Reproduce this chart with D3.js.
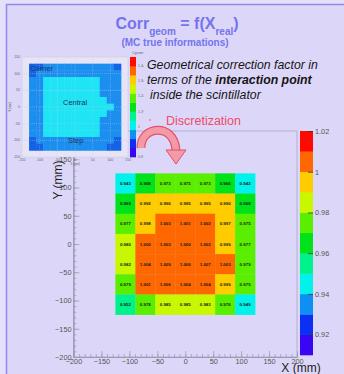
<!DOCTYPE html>
<html><head><meta charset="utf-8">
<script src="https://cdn.jsdelivr.net/npm/d3@7"></script>
<style>
html,body{margin:0;padding:0;background:#e4e0fa;}
svg{display:block;}
</style></head>
<body>
<svg id="c" width="344" height="374"></svg>
<script>
// ---------- data ----------
const xTicks = [-200, -150, -100, -50, 0, 50, 100, 150, 200];
const yTicks = [-200, -150, -100, -50, 0, 50, 100, 150];
const colorTicks = [0.92, 0.94, 0.96, 0.98, 1, 1.02];
const colorLevels = [0.91, 0.92, 0.93, 0.94, 0.95, 0.96, 0.97, 0.98, 0.99, 1.00, 1.01, 1.02];
const palette = ["#3a05f2", "#0a30f5", "#0e90f2", "#00f2ea", "#00f28c", "#00e21a", "#5aee00", "#c8f800", "#ffcc00", "#ff6800", "#ff0a00"];
const cellEdges = [-125, -89.3, -53.6, -17.9, 17.9, 53.6, 89.3, 125];
// rows from top (Y high) to bottom
const cellValues = [
  [0.943, 0.968, 0.973, 0.975, 0.973, 0.966, 0.942],
  [0.969, 0.992, 0.996, 0.995, 0.995, 0.990, 0.968],
  [0.977, 0.998, 1.003, 1.001, 1.002, 0.997, 0.975],
  [0.980, 1.000, 1.003, 1.000, 1.002, 0.999, 0.977],
  [0.982, 1.004, 1.009, 1.006, 1.007, 1.003, 0.979],
  [0.979, 1.001, 1.006, 1.004, 1.004, 0.999, 0.975],
  [0.952, 0.978, 0.985, 0.985, 0.983, 0.976, 0.949]
];
// inset (continuous MC map, coarse) : d = corner, b = step, c = central
const insetRows = [
  "ddbbbbbbbbbbd",
  "dbbbbbbbbbbbb",
  "bbccccccccbbb",
  "bbccccccccbbb",
  "bbccccccccbbb",
  "bbcccccccccbb",
  "bbccccccccccb",
  "bbcccccccccbb",
  "bbccccccccbbb",
  "bbccccccccbbb",
  "bbccccccccbbb",
  "dbbbbbbbbbbbd",
  "ddbbbbbbbbbdd"
];
const insetLevels = {d: 0.86, b: 0.92, c: 0.98};
const insetTicks = [-150, -100, -50, 0, 50, 100, 150];
const insetColorTicks = [0.8, 0.9, 1, 1.1, 1.2, 1.3, 1.4];
const insetLabels = [["Corner", -127, 108], ["Central", -34, 5], ["Step", -20, -107]];

const svg = d3.select("#c");
const ff = "'Liberation Sans', Arial, sans-serif";
const fn = "'Liberation Sans Narrow', 'Liberation Sans', Arial, sans-serif";

// slide background + border
svg.append("rect").attr("x", 6.5).attr("y", 4.5).attr("width", 340).attr("height", 372)
  .attr("fill", "#dcd7f8").attr("stroke", "#8f88ee").attr("stroke-width", 1.5);

// ---------- title ----------
const title = svg.append("text").attr("x", 177).attr("y", 29).attr("text-anchor", "middle")
  .attr("font-family", ff).attr("font-weight", "bold").attr("fill", "#7474ec").attr("font-size", 16);
title.append("tspan").text("Corr");
title.append("tspan").attr("font-size", 10).attr("dy", 6).text("geom");
title.append("tspan").attr("dy", -6).text(" = f(X");
title.append("tspan").attr("font-size", 10).attr("dy", 6).text("real");
title.append("tspan").attr("dy", -6).text(")");
svg.append("text").attr("x", 175).attr("y", 46).attr("text-anchor", "middle")
  .attr("font-family", ff).attr("font-weight", "bold").attr("fill", "#7474ec").attr("font-size", 10)
  .text("(MC true informations)");

// ---------- description text ----------
const desc = svg.append("g").attr("font-family", ff).attr("font-style", "italic").attr("font-size", 12.3).attr("fill", "#151515");
desc.append("text").attr("x", 147).attr("y", 69).text("Geometrical correction factor in");
const l2 = desc.append("text").attr("x", 147).attr("y", 84);
l2.append("tspan").text("terms of the ");
l2.append("tspan").attr("font-weight", "bold").text("interaction point");
desc.append("text").attr("x", 150).attr("y", 99).text("inside the scintillator");
[66, 81, 96, 111].forEach(yy => svg.append("circle").attr("cx", 143).attr("cy", yy).attr("r", 0.6).attr("fill", "#888"));
svg.append("circle").attr("cx", 150).attr("cy", 120).attr("r", 0.7).attr("fill", "#e44");
svg.append("text").attr("x", 166).attr("y", 125).attr("font-family", ff).attr("font-size", 12.5)
  .attr("fill", "#f04a66").text("Discretization");

// ---------- main histogram ----------
const x = d3.scaleLinear().domain([-200, 200]).range([73.5, 297]);
const y = d3.scaleLinear().domain([-200, 200]).range([357, 131]);
const color = d3.scaleThreshold().domain(colorLevels.slice(1, -1)).range(palette);

svg.append("rect").attr("x", x(-200)).attr("y", y(200)).attr("width", x(200) - x(-200)).attr("height", y(-200) - y(200))
  .attr("fill", "none").attr("stroke", "#a9a6c4").attr("stroke-width", 0.8);

const cells = [];
cellValues.forEach((row, r) => row.forEach((v, c) => cells.push({
  x0: cellEdges[c], x1: cellEdges[c + 1], y1: cellEdges[cellEdges.length - 1 - r], y0: cellEdges[cellEdges.length - 2 - r], v
})));
const cg = svg.append("g");
cg.selectAll("rect").data(cells).join("rect")
  .attr("x", d => x(d.x0)).attr("y", d => y(d.y1))
  .attr("width", d => x(d.x1) - x(d.x0) + 0.3).attr("height", d => y(d.y0) - y(d.y1) + 0.3)
  .attr("fill", d => color(d.v));
cg.selectAll("text").data(cells).join("text")
  .attr("x", d => x((d.x0 + d.x1) / 2)).attr("y", d => y((d.y0 + d.y1) / 2) + 1.5)
  .attr("text-anchor", "middle").attr("font-family", fn).attr("font-weight", "bold").attr("font-size", 4.4)
  .attr("fill", "#1a1a1a").text(d => d.v.toFixed(3));

// axes
function styleAxis(g) {
  g.select(".domain").attr("stroke", "#9a98b0").attr("stroke-width", 0.8);
  g.selectAll(".tick line").attr("stroke", "#9a98b0").attr("stroke-width", 0.7);
  g.selectAll("text").attr("font-family", fn).attr("font-size", 7.3).attr("fill", "#555");
}
const minor = d3.range(-200, 201, 10);
const yg = svg.append("g").attr("transform", `translate(${x(-200)},0)`)
  .call(d3.axisLeft(y).tickValues(yTicks).tickSizeInner(-6).tickSizeOuter(0).tickPadding(2).tickFormat(d3.format("d")));
styleAxis(yg);
const ygm = svg.append("g").attr("transform", `translate(${x(-200)},0)`)
  .call(d3.axisLeft(y).tickValues(minor).tickSizeInner(-3).tickSizeOuter(0).tickFormat(""));
styleAxis(ygm);
const xg = svg.append("g").attr("transform", `translate(0,${y(-200)})`)
  .call(d3.axisBottom(x).tickValues(xTicks).tickSizeInner(-6).tickSizeOuter(0).tickPadding(2).tickFormat(d3.format("d")));
styleAxis(xg);
xg.selectAll("text").attr("dy", "0.65em");
const xgm = svg.append("g").attr("transform", `translate(0,${y(-200)})`)
  .call(d3.axisBottom(x).tickValues(minor).tickSizeInner(-3).tickSizeOuter(0).tickFormat(""));
styleAxis(xgm);

svg.append("text").attr("transform", `translate(62,180) rotate(-90)`).attr("text-anchor", "middle")
  .attr("font-family", ff).attr("font-size", 12).attr("fill", "#222").text("Y (mm)");
svg.append("text").attr("x", 301).attr("y", 372).attr("text-anchor", "middle")
  .attr("font-family", ff).attr("font-size", 12).attr("fill", "#222").text("X (mm)");

// colour bar
const yc = d3.scaleLinear().domain([0.91, 1.02]).range([355, 131]);
const bands = palette.map((col, i) => ({lo: colorLevels[i], hi: colorLevels[i + 1], col}));
svg.append("g").selectAll("rect").data(bands).join("rect")
  .attr("x", 300).attr("width", 13).attr("y", d => yc(d.hi)).attr("height", d => yc(d.lo) - yc(d.hi) + 0.3)
  .attr("fill", d => d.col);
const cbg = svg.append("g").attr("transform", "translate(313,0)")
  .call(d3.axisRight(yc).tickValues(colorTicks).tickSizeInner(-5).tickSizeOuter(0).tickPadding(2).tickFormat(d => String(+d.toFixed(2))));
cbg.select(".domain").remove();
cbg.selectAll(".tick line").attr("stroke", "#333").attr("stroke-width", 0.8);
cbg.selectAll("text").attr("font-family", fn).attr("font-size", 7.3).attr("fill", "#555");

// ---------- inset (original MC map) ----------
const ix = d3.scaleLinear().domain([-150, 150]).range([22, 128]);
const iy = d3.scaleLinear().domain([-150, 150]).range([157, 57]);
const ins = svg.append("g");
ins.append("rect").attr("x", 22).attr("y", 57).attr("width", 106).attr("height", 100).attr("fill", "#e6e4f6");
const icol = d3.scaleLinear().domain([0.86, 0.92, 0.98]).range(["#1462e6", "#1c8ef0", "#1ee4f4"]);
const n = insetRows.length, step = 260 / n;
const icells = [];
insetRows.forEach((row, r) => row.split("").forEach((ch, c) => icells.push({
  x0: -130 + c * step, y1: 130 - r * step, v: insetLevels[ch]
})));
ins.selectAll("rect.ic").data(icells).join("rect").attr("class", "ic")
  .attr("x", d => ix(d.x0)).attr("y", d => iy(d.y1))
  .attr("width", ix(step) - ix(0) + 0.4).attr("height", iy(0) - iy(step) + 0.4)
  .attr("fill", d => icol(d.v));
ins.selectAll("line.gx").data(insetTicks.slice(1, -1)).join("line").attr("class", "gx")
  .attr("x1", d => ix(d)).attr("x2", d => ix(d)).attr("y1", 57).attr("y2", 157)
  .attr("stroke", "#bcd").attr("stroke-width", 0.4).attr("stroke-dasharray", "1,1");
ins.selectAll("line.gy").data(insetTicks.slice(1, -1)).join("line").attr("class", "gy")
  .attr("y1", d => iy(d)).attr("y2", d => iy(d)).attr("x1", 22).attr("x2", 128)
  .attr("stroke", "#bcd").attr("stroke-width", 0.4).attr("stroke-dasharray", "1,1");
ins.append("rect").attr("x", 22).attr("y", 57).attr("width", 106).attr("height", 100)
  .attr("fill", "none").attr("stroke", "#c8c8d8").attr("stroke-width", 0.5);
ins.selectAll("text.ty").data(insetTicks).join("text").attr("class", "ty")
  .attr("x", 20).attr("y", d => iy(d) + 1).attr("text-anchor", "end")
  .attr("font-family", fn).attr("font-size", 3.5).attr("fill", "#666").text(d => d);
ins.selectAll("text.tx").data(insetTicks).join("text").attr("class", "tx")
  .attr("x", d => ix(d)).attr("y", 161).attr("text-anchor", "middle")
  .attr("font-family", fn).attr("font-size", 3.5).attr("fill", "#666").text(d => d);
ins.append("text").attr("transform", "translate(11,107) rotate(-90)").attr("text-anchor", "middle")
  .attr("font-family", fn).attr("font-size", 3).attr("fill", "#666").text("Y [mm]");
ins.append("text").attr("x", 75).attr("y", 165).attr("text-anchor", "middle")
  .attr("font-family", fn).attr("font-size", 3).attr("fill", "#666").text("X [mm]");
ins.selectAll("text.lab").data(insetLabels).join("text").attr("class", "lab")
  .attr("x", d => ix(d[1])).attr("y", d => iy(d[2]))
  .attr("font-family", ff).attr("font-size", 7.5).attr("fill", "#1e3464").text(d => d[0]);
// inset colour bar
const iyc = d3.scaleLinear().domain([0.8, 1.46]).range([157, 57]);
const ipal = d3.scaleQuantize().domain([0.8, 1.46]).range(palette);
const ibands = d3.range(palette.length).map(i => 0.8 + (i + 0.5) * 0.66 / palette.length);
ins.selectAll("rect.cb").data(ibands).join("rect").attr("class", "cb")
  .attr("x", 130).attr("width", 6).attr("y", d => iyc(d + 0.03)).attr("height", iyc(0.8) - iyc(0.86) + 0.3)
  .attr("fill", d => ipal(d));
ins.selectAll("text.cbt").data(insetColorTicks).join("text").attr("class", "cbt")
  .attr("x", 138).attr("y", d => iyc(d) + 1).attr("font-family", fn).attr("font-size", 3.5).attr("fill", "#666")
  .text(d => String(+d.toFixed(1)));
ins.append("text").attr("x", 132).attr("y", 54).attr("font-family", fn).attr("font-size", 3.5).attr("fill", "#666").text("Cgeom");

// ---------- curved arrow ----------
const arr = svg.append("g");
const arc = "M141,148 C140,126 174,122 176,150";
arr.append("path").attr("d", arc).attr("fill", "none").attr("stroke", "#e2506a").attr("stroke-width", 9);
arr.append("path").attr("d", arc).attr("fill", "none").attr("stroke", "#f49aa6").attr("stroke-width", 6.5);
arr.append("path").attr("d", "M166,150 L186,150 L176,164 Z").attr("fill", "#f49aa6").attr("stroke", "#e2506a").attr("stroke-width", 1);
</script>
</body></html>
